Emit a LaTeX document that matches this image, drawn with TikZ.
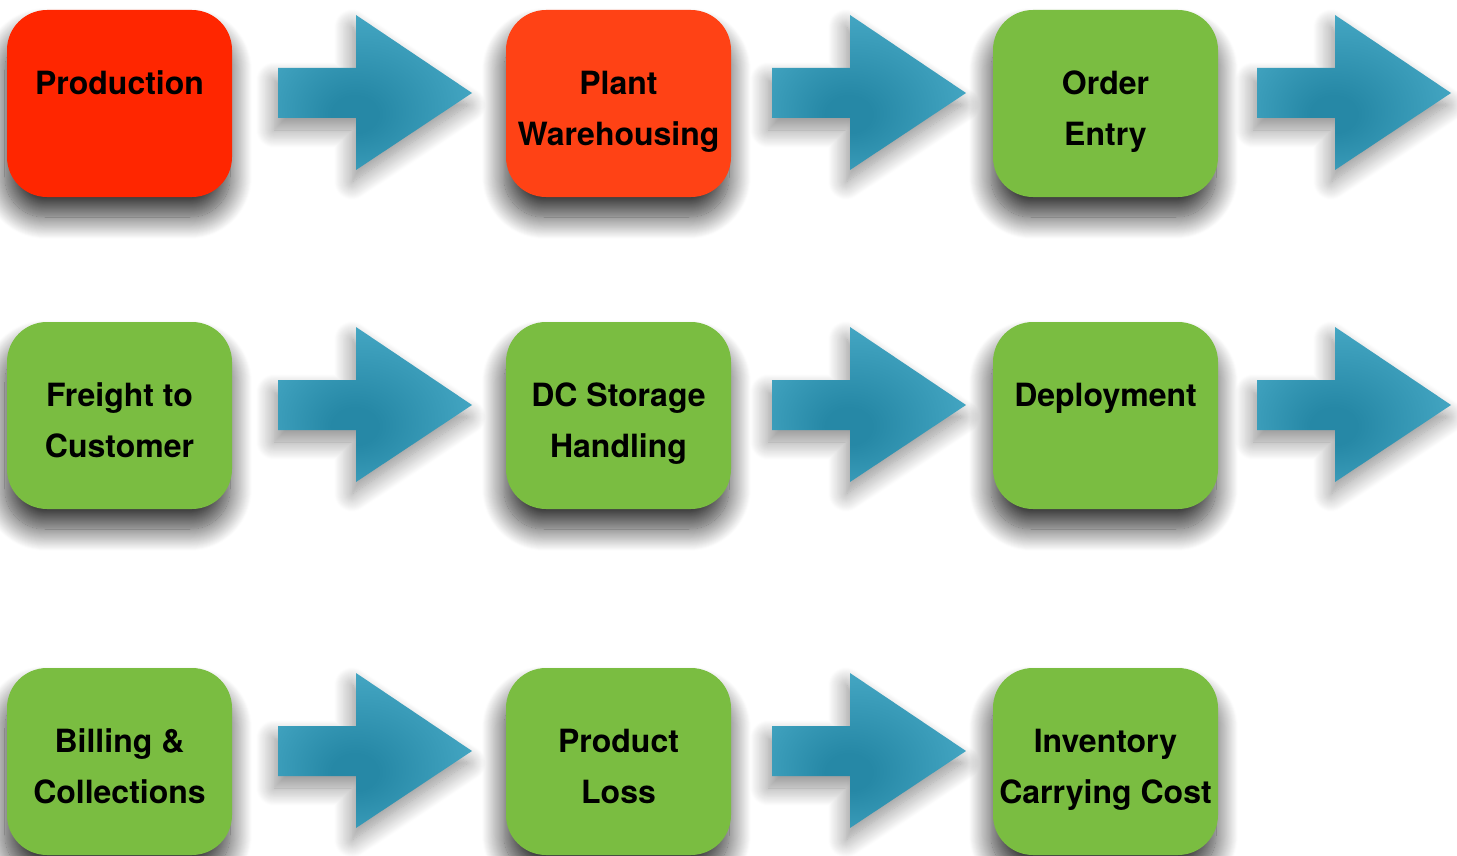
\documentclass[tikz,border=0pt]{standalone}
\usepackage{fontspec}
\setmainfont{TeX Gyre Heros}
\usetikzlibrary{shadows.blur}
\definecolor{prodred}{RGB}{255,38,0}
\definecolor{plantred}{RGB}{255,66,21}
\definecolor{stepgreen}{RGB}{122,189,65}
\definecolor{arrowdark}{RGB}{38,136,166}
\definecolor{arrowlight}{RGB}{78,176,204}
\pgfdeclareradialshading{arrowshade}{\pgfpoint{-6bp}{-8bp}}{color(0bp)=(arrowdark); color(6bp)=(arrowdark); color(36bp)=(arrowlight); color(50bp)=(arrowlight)}
\tikzset{
  box/.style={rounded corners=40pt, minimum width=225pt, minimum height=187pt, inner sep=0pt,
    blur shadow={shadow xshift=-2pt, shadow yshift=-20pt, shadow blur radius=22pt, shadow blur steps=24, shadow opacity=80}},
  lbl/.style={anchor=north, inner sep=0pt, align=center, font=\fontsize{32}{51}\selectfont\bfseries},
  blockarrow/.style={shading=arrowshade,
    blur shadow={shadow xshift=-4pt, shadow yshift=-12pt, shadow blur radius=18pt, shadow blur steps=20, shadow opacity=45}}
}
\begin{document}
\begin{tikzpicture}[x=1pt,y=1pt]
\useasboundingbox (0,0) rectangle (1457,-856);
% row 1
\node[box, fill=prodred] (prod) at (119.5,-103.5){};
\node[lbl] (prodtxt) at ([yshift=-61pt]prod.north){Production};
\node[box, fill=plantred] (plant) at (618.5,-103.5){};
\node[lbl] (planttxt) at ([yshift=-61pt]plant.north){Plant\\Warehousing};
\node[box, fill=stepgreen] (order) at (1105.5,-103.5){};
\node[lbl] (ordertxt) at ([yshift=-61pt]order.north){Order\\Entry};
\shade[blockarrow] (278,-68) -- ++(78,0) -- ++(0,53) -- ++(116,-78) -- ++(-116,-77) -- ++(0,52) -- ++(-78,0) -- cycle;
\shade[blockarrow] (772,-68) -- ++(78,0) -- ++(0,53) -- ++(116,-78) -- ++(-116,-77) -- ++(0,52) -- ++(-78,0) -- cycle;
\shade[blockarrow] (1257,-68) -- ++(78,0) -- ++(0,53) -- ++(116,-78) -- ++(-116,-77) -- ++(0,52) -- ++(-78,0) -- cycle;

% row 2
\node[box, fill=stepgreen] (freight) at (119.5,-415.5){};
\node[lbl] (freighttxt) at ([yshift=-61pt]freight.north){Freight to\\Customer};
\node[box, fill=stepgreen] (dcstore) at (618.5,-415.5){};
\node[lbl] (dcstoretxt) at ([yshift=-61pt]dcstore.north){DC Storage\\Handling};
\node[box, fill=stepgreen] (deploy) at (1105.5,-415.5){};
\node[lbl] (deploytxt) at ([yshift=-61pt]deploy.north){Deployment};
\shade[blockarrow] (278,-380) -- ++(78,0) -- ++(0,53) -- ++(116,-78) -- ++(-116,-77) -- ++(0,52) -- ++(-78,0) -- cycle;
\shade[blockarrow] (772,-380) -- ++(78,0) -- ++(0,53) -- ++(116,-78) -- ++(-116,-77) -- ++(0,52) -- ++(-78,0) -- cycle;
\shade[blockarrow] (1257,-380) -- ++(78,0) -- ++(0,53) -- ++(116,-78) -- ++(-116,-77) -- ++(0,52) -- ++(-78,0) -- cycle;

% row 3
\node[box, fill=stepgreen] (billing) at (119.5,-761.5){};
\node[lbl] (billingtxt) at ([yshift=-61pt]billing.north){Billing \&\\Collections};
\node[box, fill=stepgreen] (loss) at (618.5,-761.5){};
\node[lbl] (losstxt) at ([yshift=-61pt]loss.north){Product\\Loss};
\node[box, fill=stepgreen] (invcost) at (1105.5,-761.5){};
\node[lbl] (invcosttxt) at ([yshift=-61pt]invcost.north){Inventory\\Carrying Cost};
\shade[blockarrow] (278,-726) -- ++(78,0) -- ++(0,53) -- ++(116,-78) -- ++(-116,-77) -- ++(0,52) -- ++(-78,0) -- cycle;
\shade[blockarrow] (772,-726) -- ++(78,0) -- ++(0,53) -- ++(116,-78) -- ++(-116,-77) -- ++(0,52) -- ++(-78,0) -- cycle;

\end{tikzpicture}
\end{document}
